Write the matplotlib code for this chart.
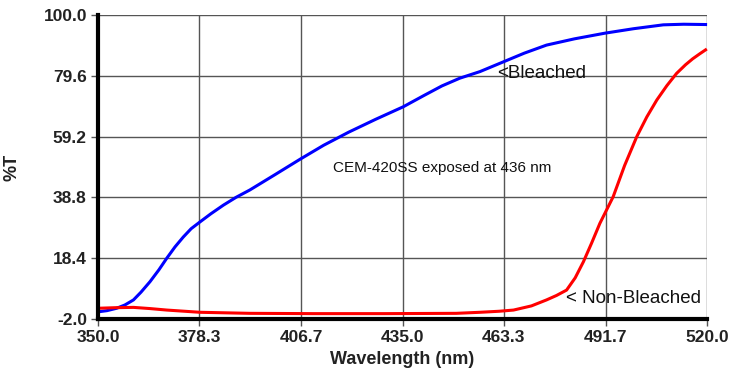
import matplotlib
matplotlib.use("Agg")
import matplotlib.pyplot as plt
import numpy as np

plt.rcParams['font.family'] = ['Liberation Sans', 'DejaVu Sans']

# Data
bleached_wl = [350.0, 352.5, 355.2, 357.5, 359.9, 362.0, 364.5, 367.0, 369.2, 371.5, 373.8, 376.0,
               378.5, 381.5, 385.0, 388.5, 392.4, 399.5, 406.4,
               413.0, 420.0, 427.5, 435.2, 441.0, 446.0, 451.0, 456.6, 463.2, 469.0, 475.2,
               483.0, 491.5, 499.5, 507.8, 513.5, 519.6]
bleached_t = [0.4, 0.8, 1.6, 2.7, 4.4, 7.0, 10.5, 14.5, 18.4, 22.2, 25.5, 28.3,
              30.6, 33.3, 36.2, 38.8, 41.3, 46.5, 51.6,
              56.3, 60.7, 65.0, 69.2, 73.0, 76.2, 78.8, 81.0, 84.3, 87.2, 89.9,
              92.0, 93.9, 95.4, 96.7, 96.9, 96.8]

nonbleached_wl = [350.0, 355.0, 359.9, 364.5, 369.2, 378.5, 392.4, 410.0, 430.0, 450.0, 456.6,
                  462.0, 466.0, 471.0, 475.2, 478.0, 480.8, 483.2, 485.5, 487.8, 490.1, 493.8,
                  497.0, 500.4, 503.2, 506.0, 508.8, 511.5, 514.0, 516.0, 518.0, 519.6]
nonbleached_t = [1.6, 1.8, 1.9, 1.5, 1.0, 0.25, -0.1, -0.2, -0.2, -0.1, 0.25,
                 0.6, 1.0, 2.4, 4.4, 5.9, 7.7, 11.8, 17.2, 23.5, 30.1, 39.0,
                 49.5, 59.2, 65.8, 71.5, 76.3, 80.4, 83.3, 85.3, 87.0, 88.3]

x_ticks = [350.0, 378.3, 406.7, 435.0, 463.3, 491.7, 520.0]
y_ticks = [-2.0, 18.4, 38.8, 59.2, 79.6, 100.0]

fig = plt.figure(figsize=(7.31, 3.79), dpi=100)
ax = fig.add_axes([98/731, 60/379, 609/731, 304/379])

ax.plot(bleached_wl, bleached_t, color='#0000ff', lw=2.2, zorder=3, clip_on=False)
ax.plot(nonbleached_wl, nonbleached_t, color='#ff0000', lw=2.2, zorder=3, clip_on=False)

ax.set_xlim(350, 520)
ax.set_ylim(-2, 100)
ax.set_xticks(x_ticks)
ax.set_yticks(y_ticks)
ax.set_xticklabels([f"{v:.1f}" for v in x_ticks], fontsize=12.5, fontweight='bold', color='#222222')
ax.set_yticklabels([f"{v:.1f}" for v in y_ticks], fontsize=12.5, fontweight='bold', color='#222222')
ax.grid(True, color='#555555', lw=1.0)
ax.set_axisbelow(True)

for s in ['top', 'right']:
    ax.spines[s].set_visible(False)
for s in ['left', 'bottom']:
    ax.spines[s].set_linewidth(3)
    ax.spines[s].set_color('black')
    ax.spines[s].set_zorder(4)
ax.tick_params(axis='both', direction='out', length=5, width=1, color='#555555', pad=3)

ax.set_xlabel("Wavelength (nm)", fontsize=13, fontweight='bold', color='#222222', labelpad=4)
ax.set_ylabel("%T", fontsize=13, fontweight='bold', color='#222222')
ax.yaxis.set_label_coords(-0.128, 0.5)

ax.text(461.4, 80.5, "<Bleached", fontsize=13.5, color='#111111', va='center', ha='left', zorder=5)
ax.text(480.6, 5.0, "< Non-Bleached", fontsize=13.5, color='#111111', va='center', ha='left', zorder=5)
ax.text(415.6, 48.7, "CEM-420SS exposed at 436 nm", fontsize=11, color='#111111', va='center', ha='left', zorder=5)

fig.savefig("out.png", dpi=100)
